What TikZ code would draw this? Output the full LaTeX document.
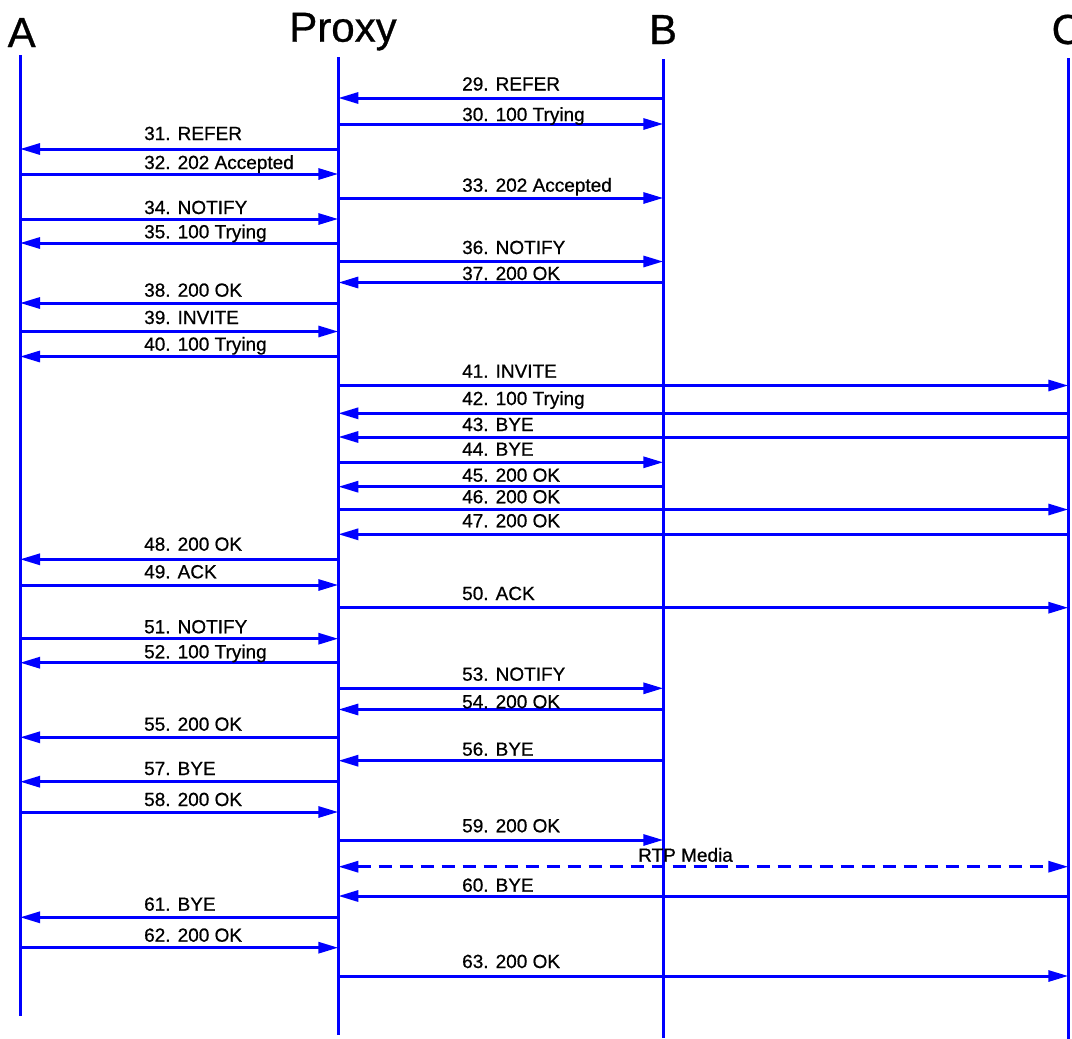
\documentclass[tikz,border=0pt]{standalone}
\usepackage{fontspec}
\setmainfont{Liberation Sans}
\newfontfamily\seqfont[FakeBold=0.7]{Liberation Sans}
\usetikzlibrary{arrows.meta,calc}
\definecolor{seqblue}{RGB}{0,0,255}
\tikzset{
  lifeline/.style={draw=seqblue,line width=3pt},
  msg/.style={draw=seqblue,line width=3pt,-{Triangle[length=20pt,width=11pt]}},
  media/.style={draw=seqblue,line width=3pt,dash pattern=on 13pt off 8pt,{Triangle[length=20pt,width=11pt]}-{Triangle[length=20pt,width=11pt]}},
  lbl/.style={anchor=base west,inner sep=0pt,text=black,font=\seqfont\fontsize{19}{19}\selectfont},
  head/.style={anchor=base,inner sep=0pt,text=black,font=\seqfont\fontsize{42}{42}\selectfont}
}
% #1 name, #2 arrow y, #3 from, #4 to, #5 label x, #6 label baseline y, #7 text
\newcommand{\seqmsg}[7]{%
  \draw[msg] ($(#3)+(0,-#2)$) -- ($(#4)+(0,-#2)$);
  \node[lbl] (#1) at (#5,-#6) {#7};
}
\begin{document}
\begin{tikzpicture}[x=1pt,y=1pt]
\useasboundingbox (0,0) rectangle (1072,-1039);
% headers
\node[head] (hA) at (21.7,-47) {A};
\node[head] (hP) at (343,-41.7) {Proxy};
\node[head] (hB) at (663,-44) {B};
\node[head] (hC) at (1066.8,-44) {C};
% lifeline x positions
\coordinate (lA) at (20,0);
\coordinate (lP) at (338.3,0);
\coordinate (lB) at (663.3,0);
\coordinate (lC) at (1068.3,0);
\coordinate (lAt) at (20,-55);   \coordinate (lAb) at (20,-1016);
\coordinate (lPt) at (338.3,-57); \coordinate (lPb) at (338.3,-1035);
\coordinate (lBt) at (663.3,-59); \coordinate (lBb) at (663.3,-1038);
\coordinate (lCt) at (1068.3,-58); \coordinate (lCb) at (1068.3,-1039);
\draw[lifeline] (lAt) -- (lAb);
\draw[lifeline] (lPt) -- (lPb);
\draw[lifeline] (lBt) -- (lBb);
\draw[lifeline] (lCt) -- (lCb);
% messages
\def\Lx{144}
\def\Mx{462}
\seqmsg{m29}{98}{lB}{lP}{\Mx}{90.5}{29. REFER}
\seqmsg{m30}{124}{lP}{lB}{\Mx}{121}{30. 100 Trying}
\seqmsg{m31}{149}{lP}{lA}{\Lx}{140}{31. REFER}
\seqmsg{m32}{174}{lA}{lP}{\Lx}{169}{32. 202 Accepted}
\seqmsg{m33}{198}{lP}{lB}{\Mx}{191.7}{33. 202 Accepted}
\seqmsg{m34}{219}{lA}{lP}{\Lx}{214}{34. NOTIFY}
\seqmsg{m35}{243}{lP}{lA}{\Lx}{238.3}{35. 100 Trying}
\seqmsg{m36}{261.5}{lP}{lB}{\Mx}{254}{36. NOTIFY}
\seqmsg{m37}{282.5}{lB}{lP}{\Mx}{280}{37. 200 OK}
\seqmsg{m38}{303}{lP}{lA}{\Lx}{296.7}{38. 200 OK}
\seqmsg{m39}{331.5}{lA}{lP}{\Lx}{324}{39. INVITE}
\seqmsg{m40}{356.5}{lP}{lA}{\Lx}{350.7}{40. 100 Trying}
\seqmsg{m41}{385.5}{lP}{lC}{\Mx}{377.7}{41. INVITE}
\seqmsg{m42}{413.3}{lC}{lP}{\Mx}{405}{42. 100 Trying}
\seqmsg{m43}{437}{lC}{lP}{\Mx}{431}{43. BYE}
\seqmsg{m44}{462.3}{lP}{lB}{\Mx}{455.7}{44. BYE}
\seqmsg{m45}{486.7}{lB}{lP}{\Mx}{481.7}{45. 200 OK}
\seqmsg{m46}{509.5}{lP}{lC}{\Mx}{503.3}{46. 200 OK}
\seqmsg{m47}{534.3}{lC}{lP}{\Mx}{527.3}{47. 200 OK}
\seqmsg{m48}{559.3}{lP}{lA}{\Lx}{550.7}{48. 200 OK}
\seqmsg{m49}{585}{lA}{lP}{\Lx}{578.3}{49. ACK}
\seqmsg{m50}{607.7}{lP}{lC}{\Mx}{600}{50. ACK}
\seqmsg{m51}{638.7}{lA}{lP}{\Lx}{633.3}{51. NOTIFY}
\seqmsg{m52}{662.7}{lP}{lA}{\Lx}{658.3}{52. 100 Trying}
\seqmsg{m53}{688.3}{lP}{lB}{\Mx}{680.7}{53. NOTIFY}
\seqmsg{m54}{709.5}{lB}{lP}{\Mx}{708.3}{54. 200 OK}
\seqmsg{m55}{737.3}{lP}{lA}{\Lx}{730.7}{55. 200 OK}
\seqmsg{m56}{760.7}{lB}{lP}{\Mx}{755.7}{56. BYE}
\seqmsg{m57}{781.7}{lP}{lA}{\Lx}{775}{57. BYE}
\seqmsg{m58}{812}{lA}{lP}{\Lx}{806}{58. 200 OK}
\seqmsg{m59}{840}{lP}{lB}{\Mx}{832.3}{59. 200 OK}
% RTP media
\draw[media] ($(lP)+(0,-866.7)$) -- ($(lC)+(0,-866.7)$);
\node[lbl] (rtp) at (638,-861.7) {RTP Media};
\seqmsg{m60}{896}{lC}{lP}{\Mx}{891.7}{60. BYE}
\seqmsg{m61}{917.3}{lP}{lA}{\Lx}{910.7}{61. BYE}
\seqmsg{m62}{947.7}{lA}{lP}{\Lx}{941.7}{62. 200 OK}
\seqmsg{m63}{976}{lP}{lC}{\Mx}{968}{63. 200 OK}
\end{tikzpicture}
\end{document}
